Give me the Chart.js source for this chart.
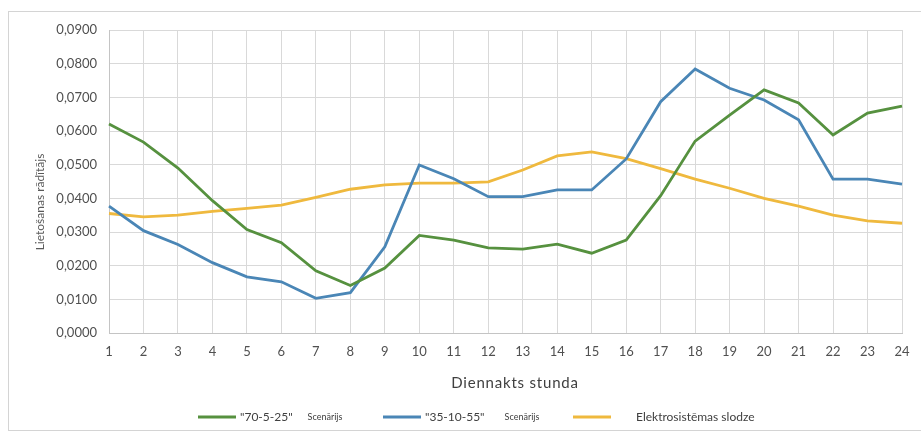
<!DOCTYPE html>
<html>
<head>
<meta charset="utf-8">
<title>Lietošanas rādītājs pa diennakts stundām</title>
<script src="https://cdn.jsdelivr.net/npm/chart.js@4.4.1/dist/chart.umd.min.js"></script>
<style>
  html, body { margin: 0; padding: 0; background: #ffffff; }
  #wrap { width: 921px; height: 435px; position: relative; }
</style>
</head>
<body>
<div id="wrap"><canvas id="chart" width="921" height="435"></canvas></div>
<script>
// Hours of the day (x categories)
const hours = ['1','2','3','4','5','6','7','8','9','10','11','12','13','14','15','16','17','18','19','20','21','22','23','24'];

// Scenario "70-5-25"
const scenario70525 = [0.0621, 0.0567, 0.0490, 0.0393, 0.0307, 0.0268, 0.0185, 0.0141, 0.0193, 0.0290, 0.0276, 0.0253,
                       0.0249, 0.0264, 0.0237, 0.0276, 0.0408, 0.0570, 0.0647, 0.0722, 0.0683, 0.0588, 0.0653, 0.0674];

// Scenario "35-10-55"
const scenario351055 = [0.0377, 0.0304, 0.0263, 0.0209, 0.0167, 0.0152, 0.0103, 0.0120, 0.0256, 0.0499, 0.0458, 0.0405,
                        0.0405, 0.0425, 0.0425, 0.0517, 0.0687, 0.0784, 0.0727, 0.0692, 0.0633, 0.0457, 0.0457, 0.0442];

// Power system load
const systemLoad = [0.0355, 0.0345, 0.0350, 0.0361, 0.0370, 0.0380, 0.0403, 0.0427, 0.0440, 0.0445, 0.0445, 0.0449,
                    0.0484, 0.0526, 0.0538, 0.0518, 0.0488, 0.0457, 0.0430, 0.0400, 0.0377, 0.0350, 0.0333, 0.0326];

const seriesNames = ['"70-5-25"', '"35-10-55"', 'Elektrosistēmas slodze'];
const seriesNotes = ['Scenārijs', 'Scenārijs', ''];
const yTicks = { min: 0, max: 0.09, step: 0.01 };
const xTitle = 'Diennakts stunda';
const yTitle = 'Lietošanas rādītājs';

const FONT = 'Lato, "Open Sans", sans-serif';

// Background, outer frame, axis titles and the legend
const decorations = {
  id: 'decorations',
  beforeDraw(chart) {
    const ctx = chart.ctx;
    ctx.save();
    ctx.fillStyle = '#ffffff';
    ctx.fillRect(0, 0, chart.width, chart.height);
    ctx.restore();
  },
  afterDraw(chart) {
    const ctx = chart.ctx;
    ctx.save();

    // outer frame
    ctx.strokeStyle = '#d4d4d4';
    ctx.lineWidth = 1;
    ctx.strokeRect(8.5, 11.5, chart.width, 419);

    // x axis title
    ctx.fillStyle = '#404040';
    ctx.font = '15px ' + FONT;
    if ('letterSpacing' in ctx) ctx.letterSpacing = '0.8px';
    ctx.textAlign = 'center';
    ctx.textBaseline = 'middle';
    ctx.fillText(xTitle, 515, 383);
    if ('letterSpacing' in ctx) ctx.letterSpacing = '0px';

    // y axis title
    ctx.save();
    ctx.translate(40, 202);
    ctx.rotate(-Math.PI / 2);
    ctx.fillStyle = '#595959';
    ctx.font = '12px ' + FONT;
    ctx.fillText(yTitle, 0, 0);
    ctx.restore();

    // legend
    const legendY = 417;
    const starts = [198, 383, 573];
    chart.data.datasets.forEach((ds, i) => {
      let x = starts[i];
      ctx.strokeStyle = ds.borderColor;
      ctx.lineWidth = 3;
      ctx.beginPath();
      ctx.moveTo(x, legendY);
      ctx.lineTo(x + 38, legendY);
      ctx.stroke();
      x += i === 2 ? 63 : 42;
      ctx.textAlign = 'left';
      ctx.fillStyle = '#404040';
      ctx.font = '12px ' + FONT;
      ctx.fillText(ds.label, x, legendY);
      x += ctx.measureText(ds.label).width + (i === 0 ? 15 : 20);
      if (ds.note) {
        ctx.font = '9px ' + FONT;
        ctx.fillText(ds.note, x, legendY);
      }
    });
    ctx.restore();
  }
};

const palette = ['#56913f', '#4a86b6', '#efb93e'];
const values = [scenario70525, scenario351055, systemLoad];

new Chart(document.getElementById('chart'), {
  type: 'line',
  data: {
    labels: hours,
    datasets: values.map((v, i) => ({
      label: seriesNames[i],
      note: seriesNotes[i],
      data: v,
      borderColor: palette[i],
      backgroundColor: palette[i],
      borderWidth: 2.8,
      pointRadius: 0,
      tension: 0,
      fill: false
    }))
  },
  options: {
    responsive: false,
    animation: false,
    devicePixelRatio: 1,
    layout: { padding: { left: 0, right: 19, top: 30, bottom: 0 } },
    plugins: {
      legend: { display: false },
      tooltip: { enabled: false }
    },
    scales: {
      x: {
        type: 'category',
        offset: false,
        grid: { color: '#d9d9d9', lineWidth: 1, drawTicks: false },
        border: { color: '#c4c4c4', width: 1 },
        ticks: {
          color: '#505050',
          font: { family: FONT, size: 13 },
          padding: 11,
          maxRotation: 0,
          autoSkip: false
        },
        afterFit(scale) { scale.height = 102; }
      },
      y: {
        min: yTicks.min,
        max: yTicks.max,
        grid: { color: '#d9d9d9', lineWidth: 1, drawTicks: false },
        border: { color: '#c4c4c4', width: 1 },
        ticks: {
          stepSize: yTicks.step,
          color: '#505050',
          font: { family: FONT, size: 13 },
          padding: 12,
          callback: (v) => v.toFixed(4).replace('.', ',')
        },
        afterFit(scale) { scale.width = 109; }
      }
    }
  },
  plugins: [decorations]
});
</script>
</body>
</html>
